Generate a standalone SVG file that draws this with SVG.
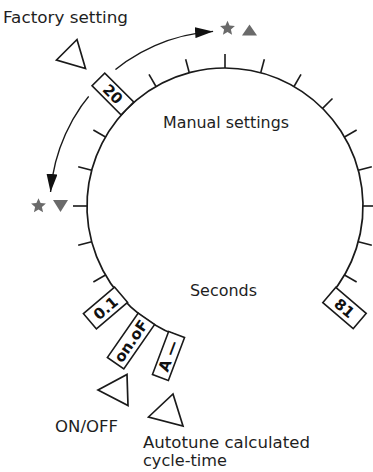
<svg xmlns="http://www.w3.org/2000/svg" width="373" height="472" viewBox="0 0 373 472">
<style>
.lbl{font-family:"DejaVu Sans","Liberation Sans",sans-serif;font-size:16.5px;fill:#1e1e1e}
.box rect.b{fill:#fff;stroke:#1a1a1a;stroke-width:1.6}
.box text{font-family:"DejaVu Sans","Liberation Sans",sans-serif;font-weight:bold;font-size:15px;fill:#111;text-anchor:middle}
.tri{fill:none;stroke:#1a1a1a;stroke-width:1.7;stroke-linejoin:miter}
.sym{fill:#6a6a6a}
.dial{fill:none;stroke:#1a1a1a;stroke-width:1.7}
.tick{stroke:#1a1a1a;stroke-width:1.6}
.arr{fill:none;stroke:#1a1a1a;stroke-width:1.4}
</style>
<defs>
<marker id="ah" markerUnits="userSpaceOnUse" viewBox="0 0 18 11" refX="18" refY="5.5" markerWidth="18" markerHeight="11" orient="auto-start-reverse">
<path d="M0,0 L18,5.5 L0,11 Z" fill="#111"/>
</marker>
<polygon id="star" points="0,-7.8 2.1,-2.9 7.42,-2.41 3.4,1.1 4.58,6.31 0,3.6 -4.58,6.31 -3.4,1.1 -7.42,-2.41 -2.1,-2.9"/>
</defs>
<rect width="373" height="472" fill="#fff"/>

<g id="connectors">
<path class="arr" d="M50.56,191.96 A175,175 0 0 1 213.1,31.4" marker-start="url(#ah)" marker-end="url(#ah)"/>
</g>

<g id="dial">
<path class="dial" d="M177.8,335.7 A138,138 0 1 1 329.15,296.54"/>
<g id="ticks">
<line class="tick" x1="105.49" y1="275" x2="93.36" y2="282"/>
<line class="tick" x1="91.7" y1="241.72" x2="78.18" y2="245.34"/>
<line class="tick" x1="87" y1="206" x2="73" y2="206"/>
<line class="tick" x1="91.7" y1="170.28" x2="78.18" y2="166.66"/>
<line class="tick" x1="105.49" y1="137" x2="93.36" y2="130"/>
<line class="tick" x1="156" y1="86.49" x2="149" y2="74.36"/>
<line class="tick" x1="189.28" y1="72.7" x2="185.66" y2="59.18"/>
<line class="tick" x1="225" y1="68" x2="225" y2="54"/>
<line class="tick" x1="260.72" y1="72.7" x2="264.34" y2="59.18"/>
<line class="tick" x1="294" y1="86.49" x2="301" y2="74.36"/>
<line class="tick" x1="322.58" y1="108.42" x2="332.48" y2="98.52"/>
<line class="tick" x1="344.51" y1="137" x2="356.64" y2="130"/>
<line class="tick" x1="358.3" y1="170.28" x2="371.82" y2="166.66"/>
<line class="tick" x1="363" y1="206" x2="377" y2="206"/>
<line class="tick" x1="358.3" y1="241.72" x2="371.82" y2="245.34"/>
<line class="tick" x1="344.51" y1="275" x2="356.64" y2="282"/>
</g>
<text class="lbl" x="163" y="128" textLength="126" lengthAdjust="spacingAndGlyphs">Manual settings</text>
<text class="lbl" x="190" y="296" textLength="67" lengthAdjust="spacingAndGlyphs">Seconds</text>
</g>

<g id="box-20" class="box" transform="translate(112.9,93.9) rotate(45)">
<rect x="-24" y="-19" width="18" height="38" fill="#fff"/>
<rect class="b" x="-20.5" y="-9" width="41" height="18"/>
<text x="0" y="5.5">20</text>
</g>
<g id="box-0-1" class="box" transform="translate(105.5,308) rotate(-40.5)">
<rect class="b" x="-20.5" y="-10" width="41" height="20"/>
<text x="0" y="5.5">0.1</text>
</g>
<g id="box-onof" class="box" transform="translate(131,341) rotate(-55.2)">
<rect class="b" x="-27" y="-10" width="54" height="20"/>
<text x="0" y="5.3" font-size="14">on.oF</text>
</g>
<g id="box-A" class="box" transform="translate(168.5,356) rotate(-69.4)">
<rect class="b" x="-23" y="-8.5" width="46" height="17"/>
<text x="0" y="5.3">A —</text>
</g>
<g id="box-81" class="box" transform="translate(344.5,308) rotate(40.5)">
<rect class="b" x="-20" y="-10" width="40" height="20"/>
<text x="0" y="5.5">81</text>
</g>

<g id="factory">
<text class="lbl" x="3" y="22.5" font-size="17" textLength="125" lengthAdjust="spacingAndGlyphs">Factory setting</text>
<polygon class="tri" points="56.5,60 77,39.5 85.5,68.5"/>
</g>

<g id="upper-limit">
<use href="#star" class="sym" x="227.5" y="28.5"/>
<polygon class="sym" points="242,35.5 257,35.5 249.5,24.5"/>
</g>
<g id="lower-limit">
<use href="#star" class="sym" x="38.5" y="206"/>
<polygon class="sym" points="53,200 68,200 60.5,212"/>
</g>

<g id="onoff">
<polygon class="tri" points="98,390 127,374.5 128,405.5"/>
<text class="lbl" x="55" y="432" textLength="63" lengthAdjust="spacingAndGlyphs">ON/OFF</text>
</g>

<g id="autotune">
<polygon class="tri" points="148.5,417 173,394 183,426"/>
<text class="lbl" x="143" y="448" textLength="167" lengthAdjust="spacingAndGlyphs">Autotune calculated</text>
<text class="lbl" x="143" y="466" textLength="84" lengthAdjust="spacingAndGlyphs">cycle-time</text>
</g>
</svg>
